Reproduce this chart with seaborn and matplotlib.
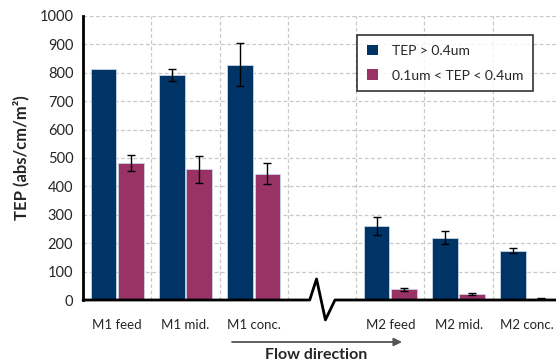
import matplotlib
matplotlib.use("Agg")
import matplotlib.pyplot as plt
import matplotlib.transforms as mtransforms
import numpy as np
import pandas as pd
import seaborn as sns

sns.set_style("white")
plt.rcParams["font.family"] = ["Lato", "DejaVu Sans"]

# data
categories = ["M1 feed", "M1 mid.", "M1 conc.", "", "M2 feed", "M2 mid.", "M2 conc."]
series = ["TEP > 0.4um", "0.1um < TEP < 0.4um"]
tep_large = [812, 792, 829, np.nan, 261, 219, 174]
tep_large_err = [np.nan, 20, 75, np.nan, 33, 23, 10]
tep_small = [483, 460, 444, np.nan, 37, 20, 5]
tep_small_err = [29, 47, 37, np.nan, 4, 4, 3]
colors = ["#003366", "#993366"]

df = pd.DataFrame({
    "cat": categories * 2,
    "series": [series[0]] * 7 + [series[1]] * 7,
    "value": tep_large + tep_small,
    "err": tep_large_err + tep_small_err,
})

fig = plt.figure(figsize=(5.56, 3.64), dpi=100)
ax = fig.add_axes([83 / 556, 64 / 364, 478 / 556, 284 / 364])

sns.barplot(data=df, x="cat", y="value", hue="series", order=categories,
            hue_order=series, palette=colors, saturation=1, errorbar=None,
            width=0.8, gap=0.06, edgecolor="#c8d4e4", linewidth=0.6, ax=ax,
            zorder=3)

# error bars from the table, matched to each drawn bar
for cont, name in zip(ax.containers, series):
    sub = df[df["series"] == name].set_index("cat")
    for bar in cont:
        xc = bar.get_x() + bar.get_width() / 2
        cat = categories[int(round(xc))]
        if cat == "" or np.isnan(sub.loc[cat, "err"]):
            continue
        ax.errorbar(xc, sub.loc[cat, "value"], yerr=sub.loc[cat, "err"],
                    color="black", lw=1, capsize=3, capthick=1, zorder=4)

ax.set_xlim(-0.5, len(categories) - 0.5)
ax.set_ylim(0, 1000)
ax.set_yticks(np.arange(0, 1001, 100))
ax.set_xticks(range(len(categories)))
ax.set_xticklabels(categories)
ax.set_xticks(np.arange(-0.5, len(categories), 1), minor=True)
ax.tick_params(axis="x", which="major", length=0, pad=14, labelsize=9.5)
ax.tick_params(axis="x", which="minor", length=4, width=1, color="black",
               direction="out")
ax.tick_params(axis="y", length=4, width=1, color="black", direction="out",
               labelsize=10.5, pad=3)
ax.grid(True, which="major", axis="y", color="#c8c8c8", ls=(0, (3, 2)), lw=0.9,
        zorder=0)
ax.grid(True, which="minor", axis="x", color="#c8c8c8", ls=(0, (3, 2)), lw=0.9,
        zorder=0)
ax.set_axisbelow(True)

for s in ["top", "right", "bottom"]:
    ax.spines[s].set_visible(False)
ax.spines["left"].set_linewidth(2)
ax.spines["left"].set_color("black")

# x axis line with break mark in the empty slot
gap = categories.index("")
trans = mtransforms.blended_transform_factory(ax.transData, ax.transAxes)
bx = [-0.5, gap - 0.18, gap - 0.08, gap + 0.05, gap + 0.19, len(categories) - 0.5]
by = [0, 0, 0.074, -0.07, 0, 0]
ax.plot(bx, by, color="black", lw=2, transform=trans, clip_on=False, zorder=5)

ax.set_xlabel("")
ax.set_ylabel("TEP (abs/cm/m²)", fontsize=12, fontweight="bold", labelpad=7)

leg = ax.legend(loc="upper left", bbox_to_anchor=((357 - 83) / 478, (300 - 35) / 284),
                frameon=True, fancybox=False, edgecolor="black", fontsize=10,
                handlelength=0.8, handleheight=0.8, handletextpad=1.0,
                borderpad=0.7, labelspacing=0.9, borderaxespad=0)
leg.get_frame().set_linewidth(1.2)
for h in leg.legend_handles:
    h.set_edgecolor("none")

# flow direction arrow and label
ax.annotate("", xy=(402 / 556, 1 - 342 / 364), xytext=(232 / 556, 1 - 342 / 364),
            xycoords="figure fraction", textcoords="figure fraction",
            arrowprops=dict(arrowstyle="-|>", color="#555555", lw=1.3,
                            mutation_scale=12, shrinkA=0, shrinkB=0))
fig.text(316 / 556, 1 - 355 / 364, "Flow direction", ha="center", va="center",
         fontsize=11.5, fontweight="bold")

fig.savefig("out.png", dpi=100)
